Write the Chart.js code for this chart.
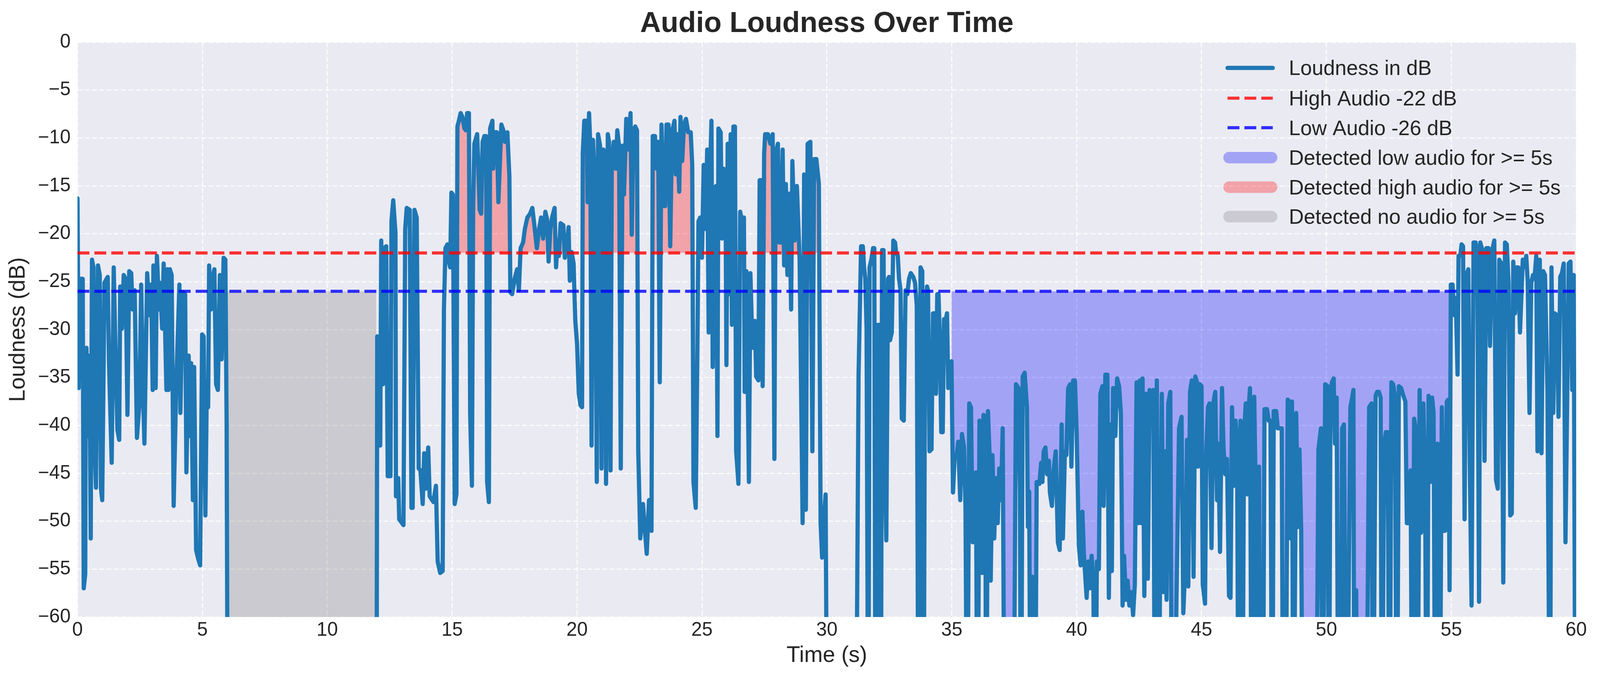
<!DOCTYPE html>
<html>
<head>
<meta charset="utf-8">
<title>Audio Loudness Over Time</title>
<script src="https://cdn.jsdelivr.net/npm/chart.js@4.4.1/dist/chart.umd.min.js"></script>
<style>
  html, body { margin: 0; padding: 0; background: #ffffff; overflow: hidden; }
  canvas { display: block; }
</style>
</head>
<body>
<canvas id="chart"></canvas>
<script>
// values (seconds / dB). -80 = below the axis floor (silence)
let timeSec = [
  // 0 - 6 s
  0.00,0.05,0.10,0.21,0.25,0.31,0.33,0.36,0.41,0.48,
  0.53,0.58,0.64,0.68,0.74,0.82,0.89,0.94,0.99,1.08,
  1.21,1.26,1.37,1.45,1.52,1.60,1.67,1.71,1.78,1.85,
  1.93,2.00,2.07,2.15,2.21,2.29,2.38,2.48,2.55,2.63,
  2.68,2.79,2.88,2.95,3.01,3.04,3.13,3.18,3.27,3.30,
  3.39,3.45,3.56,3.60,3.64,3.70,3.77,3.85,3.95,4.08,
  4.12,4.21,4.31,4.36,4.45,4.50,4.55,4.62,4.67,4.75,
  4.82,4.91,4.99,5.05,5.12,5.18,5.23,5.27,5.34,5.41,
  5.48,5.55,5.62,5.70,5.77,5.85,5.92,5.97,6.02,11.97,
  // 12 - 20 s
  12.00,12.05,12.12,12.16,12.23,12.27,12.36,12.42,12.53,12.57,
  12.64,12.73,12.75,12.84,12.88,13.05,13.12,13.18,13.30,13.37,
  13.42,13.49,13.58,13.66,13.73,13.82,13.88,13.94,14.04,14.10,
  14.25,14.35,14.42,14.52,14.62,14.67,14.73,14.81,14.85,14.92,
  14.97,15.03,15.10,15.17,15.21,15.27,15.34,15.41,15.49,15.55,
  15.60,15.67,15.72,15.79,15.84,15.89,16.00,16.04,16.10,16.16,
  16.22,16.29,16.36,16.40,16.47,16.52,16.61,16.64,16.71,16.79,
  16.85,16.92,16.97,17.05,17.11,17.21,17.29,17.33,17.40,17.50,
  17.60,17.67,17.74,17.84,17.91,18.01,18.12,18.21,18.29,18.39,
  18.48,18.56,18.64,18.73,18.80,18.86,18.93,19.00,19.10,19.16,
  19.22,19.27,19.34,19.45,19.51,19.60,19.66,19.71,19.78,19.86,
  19.93,20.00,20.07,20.14,20.20,
  // 20 - 31 s
  20.23,20.29,20.39,20.42,20.48,20.53,20.58,20.64,20.72,20.79,
  20.84,20.92,20.98,21.05,21.12,21.16,21.23,21.28,21.34,21.39,
  21.47,21.55,21.61,21.68,21.75,21.82,21.88,21.97,22.05,22.14,
  22.19,22.26,22.33,22.40,22.45,22.53,22.64,22.71,22.79,22.88,
  22.98,23.03,23.12,23.18,23.25,23.31,23.38,23.46,23.53,23.58,
  23.66,23.73,23.80,23.90,23.95,24.01,24.09,24.14,24.21,24.28,
  24.36,24.45,24.55,24.61,24.66,24.75,24.82,24.86,24.93,25.00,
  25.07,25.14,25.21,25.27,25.32,25.38,25.43,25.51,25.57,25.62,
  25.66,25.75,25.80,25.86,25.94,25.98,26.03,26.10,26.15,26.20,
  26.26,26.32,26.37,26.46,26.53,26.61,26.68,26.71,26.78,26.88,
  26.94,27.02,27.12,27.17,27.26,27.31,27.38,27.43,27.49,27.53,
  27.64,27.74,27.83,27.90,27.95,28.04,28.08,28.16,28.23,28.29,
  28.36,28.42,28.49,28.57,28.62,28.71,28.80,28.91,29.03,29.09,
  29.16,29.23,29.34,29.42,29.49,29.58,29.68,29.75,29.81,29.86,
  29.95,30.02,31.16,
  // 31 - 40 s
  31.27,31.37,31.44,31.49,31.54,31.59,31.66,31.71,31.78,31.85,
  31.90,31.95,32.04,32.11,32.16,32.21,32.27,32.32,32.38,32.45,
  32.49,32.53,32.60,32.66,32.73,32.77,32.84,32.89,32.95,33.00,
  33.08,33.15,33.22,33.29,33.36,33.46,33.53,33.60,33.67,33.75,
  33.82,33.87,33.93,34.01,34.05,34.11,34.19,34.25,34.32,34.37,
  34.42,34.47,34.52,34.58,34.64,34.69,34.75,34.81,34.86,34.93,
  34.99,35.05,35.12,35.21,35.26,35.34,35.41,35.49,35.55,35.62,
  35.70,35.77,35.84,35.90,35.97,36.03,36.11,36.16,36.22,36.27,
  36.34,36.38,36.45,36.51,36.56,36.63,36.70,36.77,36.84,36.90,
  36.97,37.04,37.12,37.47,37.57,37.67,37.73,37.77,37.84,37.92,
  38.01,38.05,38.10,38.16,38.23,38.33,38.40,38.51,38.58,38.63,
  38.68,38.75,38.82,38.89,38.93,39.01,39.08,39.16,39.25,39.32,
  39.40,39.45,39.53,39.59,39.66,39.74,39.79,39.86,39.93,
  // 40 - 50 s
  40.00,40.09,40.16,40.23,40.29,40.40,40.47,40.53,40.60,40.67,
  40.74,40.81,40.89,40.95,41.03,41.08,41.15,41.23,41.29,41.36,
  41.41,41.46,41.55,41.62,41.70,41.77,41.84,41.90,41.97,42.04,
  42.11,42.19,42.26,42.33,42.40,42.47,42.53,42.59,42.64,42.71,
  42.78,42.85,42.92,43.00,43.07,43.14,43.21,43.27,43.34,43.41,
  43.48,43.55,43.60,43.67,43.75,43.82,43.90,43.99,44.10,44.20,
  44.27,44.37,44.42,44.47,44.54,44.61,44.68,44.75,44.82,44.86,
  44.93,45.00,45.05,45.14,45.19,45.26,45.32,45.40,45.47,45.55,
  45.62,45.67,45.74,45.82,45.88,45.95,46.02,46.10,46.16,46.22,
  46.29,46.36,46.42,46.49,46.56,46.63,46.70,46.77,46.84,46.89,
  46.94,47.01,47.11,47.18,47.23,47.30,47.37,47.45,47.52,47.62,
  47.69,47.76,47.83,47.89,47.99,48.05,48.12,48.21,48.27,48.36,
  48.45,48.51,48.56,48.62,48.68,48.79,48.86,48.92,48.99,49.06,
  49.58,49.68,49.78,49.85,49.95,
  // 50 - 55 s
  50.05,50.10,50.16,50.22,50.29,50.34,50.41,50.48,50.55,50.63,
  50.70,50.75,50.82,50.89,50.96,51.03,51.08,51.12,51.19,51.26,
  51.59,51.71,51.81,51.86,51.97,52.03,52.10,52.17,52.22,52.31,
  52.38,52.45,52.53,52.60,52.67,52.74,52.82,52.90,52.99,53.08,
  53.16,53.22,53.29,53.37,53.44,53.51,53.58,53.64,53.73,53.79,
  53.88,53.95,54.02,54.09,54.16,54.23,54.29,54.36,54.45,54.53,
  54.62,54.67,54.75,54.82,54.88,54.93,
  // 55 - 60 s
  54.98,55.05,55.12,55.18,55.25,55.29,55.36,55.41,55.47,55.53,
  55.60,55.68,55.74,55.81,55.89,55.97,56.04,56.11,56.16,56.26,
  56.33,56.40,56.49,56.55,56.62,56.72,56.79,56.86,56.92,57.00,
  57.08,57.15,57.22,57.29,57.36,57.42,57.48,57.55,57.62,57.68,
  57.75,57.86,57.92,58.00,58.06,58.13,58.20,58.27,58.33,58.40,
  58.45,58.54,58.61,58.68,58.75,58.85,58.95,59.01,59.08,59.14,
  59.23,59.29,59.36,59.43,59.50,59.57,59.64,59.70,59.77,59.84,
  59.90,59.97
];

let loudnessDb = [
  // 0 - 6 s
  -16.3,-36.1,-24.7,-24.7,-57.0,-55.5,-34.7,-31.9,-41.1,-32.7,
  -51.8,-22.7,-23.5,-41.5,-46.5,-23.3,-24.3,-46.6,-47.8,-25.1,
  -24.5,-33.3,-43.9,-23.5,-31.9,-40.5,-41.5,-25.5,-29.9,-24.3,
  -24.7,-38.9,-23.9,-24.1,-27.9,-25.9,-41.3,-37.7,-25.3,-37.3,
  -41.9,-24.1,-28.5,-25.3,-36.3,-23.3,-36.1,-22.3,-27.9,-25.1,
  -29.9,-23.1,-36.3,-23.7,-36.3,-23.7,-24.3,-48.4,-36.1,-25.3,
  -38.7,-26.1,-26.3,-44.9,-32.7,-41.1,-33.5,-47.8,-33.9,-53.0,
  -53.8,-54.6,-30.5,-30.7,-49.4,-35.3,-38.1,-23.3,-27.9,-24.7,
  -23.7,-35.7,-36.3,-24.3,-33.1,-22.5,-22.7,-39.5,-80,-80,
  // 12 - 20 s
  -30.7,-42.1,-42.1,-20.7,-35.7,-21.5,-21.3,-45.3,-45.3,-18.7,
  -16.5,-19.9,-47.4,-45.5,-49.8,-50.4,-19.5,-17.3,-17.5,-48.6,
  -48.6,-17.5,-18.3,-44.5,-44.7,-48.2,-42.9,-46.6,-42.3,-47.4,
  -48.0,-46.3,-54.2,-55.4,-55.2,-27.9,-21.5,-21.1,-22.7,-23.5,
  -15.7,-15.9,-48.2,-47.2,-8.8,-8.2,-7.4,-7.8,-9.0,-9.2,
  -7.4,-7.4,-38.7,-46.3,-17.1,-10.6,-9.6,-12.4,-17.5,-17.9,
  -10.4,-9.8,-9.8,-45.9,-48.0,-9.0,-8.2,-13.2,-9.4,-9.4,
  -16.7,-12.0,-8.6,-9.2,-10.4,-9.4,-14.0,-26.1,-26.3,-24.7,
  -23.7,-25.9,-21.5,-20.9,-19.5,-18.3,-17.9,-17.3,-19.1,-21.5,
  -19.5,-18.3,-20.5,-17.7,-18.5,-22.9,-19.5,-18.3,-17.3,-23.5,
  -20.7,-22.3,-18.9,-19.1,-22.5,-21.1,-19.3,-24.9,-21.9,-23.1,
  -29.1,-31.5,-36.7,-37.9,-38.1,
  // 20 - 31 s
  -11.6,-8.2,-8.2,-16.7,-7.4,-10.8,-42.1,-10.2,-15.9,-45.9,
  -9.6,-10.8,-44.5,-11.2,-11.6,-46.1,-9.6,-10.4,-44.7,-12.8,
  -10.4,-13.2,-9.2,-10.8,-44.5,-10.8,-15.9,-8.0,-11.2,-7.4,
  -20.1,-9.2,-8.8,-9.2,-42.7,-51.8,-48.2,-50.8,-53.4,-47.8,
  -51.0,-9.8,-9.8,-13.2,-10.4,-35.5,-8.6,-17.1,-17.1,-8.6,
  -8.6,-21.3,-9.4,-8.2,-13.8,-9.6,-15.6,-7.8,-12.4,-8.6,
  -8.0,-9.4,-9.4,-12.8,-45.9,-48.6,-31.3,-18.7,-18.3,-22.5,
  -12.8,-19.5,-11.2,-30.3,-14.0,-8.2,-33.9,-15.2,-15.0,-41.1,
  -9.0,-9.4,-20.5,-13.2,-13.4,-33.7,-10.6,-26.3,-9.6,-29.5,
  -8.8,-8.8,-42.7,-46.1,-17.7,-18.7,-18.3,-36.5,-23.9,-45.9,
  -24.1,-31.9,-29.1,-34.9,-35.3,-14.4,-14.4,-35.9,-11.6,-9.6,
  -9.6,-10.6,-9.6,-43.5,-11.6,-10.6,-20.9,-20.9,-11.2,-23.3,
  -14.8,-24.3,-15.8,-27.9,-12.4,-20.7,-15.0,-22.7,-50.2,-13.8,
  -48.8,-10.6,-10.4,-42.7,-12.2,-12.2,-14.8,-50.2,-53.8,-50.6,
  -47.2,-80,-80,
  // 31 - 40 s
  -34.7,-21.3,-21.3,-23.5,-24.7,-29.9,-80,-23.5,-22.7,-21.5,
  -21.5,-80,-29.5,-29.5,-80,-21.7,-21.7,-44.7,-52.0,-24.7,
  -24.5,-31.1,-30.3,-20.7,-20.9,-21.9,-22.3,-24.7,-25.9,-39.3,
  -39.5,-25.9,-26.3,-24.7,-24.1,-24.5,-25.1,-27.5,-80,-23.5,
  -23.9,-80,-29.9,-25.5,-25.9,-42.7,-42.5,-28.3,-28.3,-36.7,
  -26.3,-26.3,-30.7,-40.7,-40.7,-28.9,-29.1,-28.3,-36.1,-33.5,
  -33.3,-47.0,-43.1,-42.9,-41.7,-47.8,-40.9,-42.3,-48.4,-80,
  -37.7,-38.1,-52.2,-45.1,-44.9,-80,-39.5,-39.7,-55.4,-38.9,
  -39.1,-80,-38.5,-42.7,-56.2,-43.1,-51.8,-45.5,-50.2,-44.5,
  -47.8,-40.3,-80,-80,-35.7,-36.1,-46.6,-80,-34.9,-34.5,
  -38.1,-50.6,-46.9,-80,-55.8,-80,-45.9,-46.1,-43.9,-45.9,
  -42.7,-42.3,-45.1,-43.7,-47.0,-48.4,-44.7,-42.7,-52.2,-53.0,
  -39.9,-51.8,-42.7,-43.1,-36.1,-35.7,-44.3,-35.3,-35.3,
  // 40 - 50 s
  -40.7,-52.6,-54.6,-49.0,-53.4,-58.0,-54.2,-57.0,-53.6,-56.6,
  -80,-54.2,-55.0,-36.7,-35.9,-48.4,-34.7,-34.7,-58.0,-39.9,
  -55.2,-36.1,-41.1,-35.1,-35.9,-38.7,-58.8,-53.6,-58.2,-56.2,
  -58.8,-57.4,-59.8,-56.6,-35.5,-50.2,-35.3,-50.2,-35.1,-57.8,
  -36.7,-56.0,-36.3,-38.5,-36.3,-80,-35.3,-80,-55.8,-36.7,
  -57.4,-42.7,-58.2,-37.7,-36.5,-80,-80,-59.4,-40.3,-39.1,
  -59.6,-53.4,-41.5,-56.8,-36.5,-35.3,-55.8,-34.9,-35.5,-44.3,
  -35.7,-35.9,-56.6,-58.6,-42.7,-38.1,-37.7,-52.8,-37.7,-36.5,
  -47.8,-41.9,-53.2,-36.1,-42.3,-45.1,-43.5,-57.8,-58.0,-38.1,
  -46.3,-39.5,-41.5,-80,-39.5,-80,-40.9,-37.7,-47.2,-38.1,
  -36.1,-80,-37.0,-49.2,-80,-44.3,-80,-80,-38.3,-38.3,
  -39.5,-39.5,-80,-38.5,-38.5,-40.3,-40.3,-40.3,-80,-80,
  -37.3,-37.5,-51.8,-37.5,-80,-38.7,-50.6,-42.5,-51.0,-80,
  -80,-42.5,-40.3,-80,-35.7,
  // 50 - 55 s
  -35.9,-80,-37.1,-35.5,-35.1,-41.9,-37.1,-80,-80,-40.3,
  -39.9,-58.6,-80,-57.8,-38.1,-37.1,-36.3,-80,-57.2,-80,
  -80,-38.1,-37.7,-80,-36.9,-36.5,-36.5,-37.1,-80,-41.9,
  -40.7,-40.7,-80,-35.5,-35.7,-36.9,-80,-35.9,-36.1,-36.9,
  -37.5,-50.2,-50.2,-44.7,-80,-39.3,-40.5,-80,-36.3,-51.2,
  -37.7,-46.1,-80,-36.9,-45.9,-37.1,-38.7,-80,-41.9,-80,
  -38.1,-51.0,-51.0,-37.5,-37.3,-57.2,
  // 55 - 60 s
  -25.3,-25.3,-28.5,-26.7,-34.7,-22.3,-22.3,-21.1,-21.3,-49.8,
  -24.3,-23.7,-44.1,-58.8,-20.9,-20.9,-21.9,-58.4,-20.9,-21.9,
  -43.7,-21.5,-21.5,-31.7,-21.9,-20.7,-45.7,-46.6,-22.7,-23.1,
  -56.4,-20.9,-21.1,-25.1,-49.4,-49.2,-22.9,-28.3,-23.5,-23.5,
  -30.3,-22.7,-23.5,-22.3,-25.1,-38.7,-25.1,-24.3,-24.7,-22.3,
  -42.7,-22.7,-42.9,-23.9,-24.3,-36.5,-80,-23.5,-38.7,-28.3,
  -28.5,-39.1,-24.5,-24.1,-23.1,-52.2,-36.9,-23.1,-22.9,-36.3,
  -24.3,-80
];

let highThreshold = -22;
let lowThreshold = -26;

// detected segments [start s, end s]
let highAudioRanges = [[15.2, 24.62], [27.3, 29.7]];
let lowAudioRanges = [[34.99, 54.93]];
let noAudioRanges = [[6.0, 11.96]];

let xTicks = [0, 5, 10, 15, 20, 25, 30, 35, 40, 45, 50, 55, 60];
let yTicks = [0, -5, -10, -15, -20, -25, -30, -35, -40, -45, -50, -55, -60];

let chartTitle = 'Audio Loudness Over Time';
let xLabel = 'Time (s)';
let yLabel = 'Loudness (dB)';
let legendLabels = [
  'Loudness in dB',
  'High Audio -22 dB',
  'Low Audio -26 dB',
  'Detected low audio for >= 5s',
  'Detected high audio for >= 5s',
  'Detected no audio for >= 5s'
];

console.log('points', timeSec.length, loudnessDb.length);

// the layout was measured on a 4171 x 1772 picture; scale it to whatever the window really is
let canvas = document.getElementById('chart');
let W = window.innerWidth || 4171;
let H = window.innerHeight || 1772;
let s = Math.min(W / 4171, H / 1772);
canvas.width = W;
canvas.height = H;
canvas.style.width = W + 'px';
canvas.style.height = H + 'px';
const px = (v) => v * s;

const FONT = '"Liberation Sans", Arial, Helvetica, sans-serif';
const INK = '#262626';
const FILL_LOW = 'rgba(0,0,255,0.3)';
const FILL_HIGH = 'rgba(255,0,0,0.3)';
const FILL_NONE = 'rgba(128,128,128,0.3)';
const NOTHING = 'rgba(0,0,0,0)';
const DASH = [px(31), px(13)];

let points = timeSec.map((t, i) => ({ x: t, y: loudnessDb[i] }));
let within = (r) => points.filter(p => p.x >= r[0] && p.x <= r[1]);

let datasets = [];

datasets.push({
  label: legendLabels[0],
  data: points,
  borderColor: '#1f77b4',
  borderWidth: px(11),
  borderJoinStyle: 'round',
  borderCapStyle: 'round',
  pointRadius: 0,
  tension: 0,
  fill: false,
  clip: 0,
  order: 1
});

datasets.push({
  label: legendLabels[1],
  data: [{ x: 0, y: highThreshold }, { x: 60, y: highThreshold }],
  borderColor: 'rgba(255,0,0,0.8)',
  borderWidth: px(8),
  borderDash: DASH,
  pointRadius: 0,
  fill: false,
  order: 0
});

datasets.push({
  label: legendLabels[2],
  data: [{ x: 0, y: lowThreshold }, { x: 60, y: lowThreshold }],
  borderColor: 'rgba(0,0,255,0.8)',
  borderWidth: px(8),
  borderDash: DASH,
  pointRadius: 0,
  fill: false,
  order: 0
});

lowAudioRanges.forEach(r => {
  datasets.push({
    label: legendLabels[3],
    data: within(r),
    borderColor: NOTHING,
    borderWidth: 0,
    pointRadius: 0,
    fill: { target: { value: lowThreshold }, below: FILL_LOW, above: NOTHING },
    order: 5
  });
});

highAudioRanges.forEach(r => {
  datasets.push({
    label: legendLabels[4],
    data: within(r),
    borderColor: NOTHING,
    borderWidth: 0,
    pointRadius: 0,
    fill: { target: { value: highThreshold }, above: FILL_HIGH, below: NOTHING },
    order: 5
  });
});

noAudioRanges.forEach(r => {
  datasets.push({
    label: legendLabels[5],
    data: [{ x: r[0], y: lowThreshold }, { x: r[1], y: lowThreshold }],
    borderColor: NOTHING,
    borderWidth: 0,
    pointRadius: 0,
    backgroundColor: FILL_NONE,
    fill: 'start',
    order: 5
  });
});

// background, title and in-plot legend
const decor = {
  id: 'decor',
  beforeDraw(chart) {
    const { ctx, chartArea: a } = chart;
    ctx.save();
    ctx.fillStyle = '#eaeaf2';
    ctx.fillRect(a.left, a.top, a.right - a.left, a.bottom - a.top);
    ctx.restore();
  },
  afterDraw(chart) {
    const { ctx, chartArea: a } = chart;
    ctx.save();
    ctx.fillStyle = INK;
    ctx.font = 'bold ' + px(75) + 'px ' + FONT;
    ctx.textAlign = 'center';
    ctx.textBaseline = 'alphabetic';
    ctx.fillText(chartTitle, (a.left + a.right) / 2, px(84));

    const rows = [177, 256, 333, 411, 488, 565];
    const keys = [
      { color: '#1f77b4', width: 11, dash: [], cap: 'round', x0: 3200, x1: 3318 },
      { color: 'rgba(255,0,0,0.8)', width: 8, dash: DASH, cap: 'butt', x0: 3200, x1: 3318 },
      { color: 'rgba(0,0,255,0.8)', width: 8, dash: DASH, cap: 'butt', x0: 3200, x1: 3318 },
      { color: FILL_LOW, width: 30, dash: [], cap: 'round', x0: 3204, x1: 3315 },
      { color: FILL_HIGH, width: 30, dash: [], cap: 'round', x0: 3204, x1: 3315 },
      { color: FILL_NONE, width: 30, dash: [], cap: 'round', x0: 3204, x1: 3315 }
    ];
    keys.forEach((k, i) => {
      const y = px(rows[i]);
      ctx.beginPath();
      ctx.strokeStyle = k.color;
      ctx.lineWidth = px(k.width);
      ctx.lineCap = k.cap;
      ctx.setLineDash(k.dash);
      ctx.moveTo(px(k.x0), y);
      ctx.lineTo(px(k.x1), y);
      ctx.stroke();
      ctx.setLineDash([]);
      ctx.fillStyle = INK;
      ctx.font = px(54) + 'px ' + FONT;
      ctx.textAlign = 'left';
      ctx.textBaseline = 'alphabetic';
      ctx.fillText(legendLabels[i], px(3360), y + px(19));
    });
    ctx.restore();
  }
};

const minus = (v) => (v < 0 ? '\u2212' + Math.abs(v) : String(v));

new Chart(canvas, {
  type: 'line',
  data: { datasets: datasets },
  options: {
    responsive: false,
    devicePixelRatio: 1,
    animation: false,
    events: [],
    layout: { padding: { top: px(110), right: W - px(4109), left: 0, bottom: 0 } },
    plugins: {
      legend: { display: false },
      tooltip: { enabled: false },
      title: { display: false }
    },
    scales: {
      x: {
        type: 'linear',
        min: 0,
        max: 60,
        afterBuildTicks: (sc) => { sc.ticks = xTicks.map(v => ({ value: v })); },
        afterFit: (sc) => { sc.height = H - px(1609); },
        grid: { color: 'rgba(255,255,255,0.85)', lineWidth: px(3), drawTicks: false },
        border: { display: false, dash: [px(13), px(6)] },
        ticks: {
          padding: px(5),
          color: INK,
          font: { family: FONT, size: px(50) },
          maxRotation: 0,
          callback: (v) => minus(v)
        },
        title: {
          display: true,
          text: xLabel,
          color: INK,
          font: { family: FONT, size: px(58) },
          padding: { top: 0, bottom: H - px(1772) + px(27) }
        }
      },
      y: {
        type: 'linear',
        min: -60,
        max: 0,
        afterBuildTicks: (sc) => { sc.ticks = yTicks.map(v => ({ value: v })); },
        afterFit: (sc) => { sc.width = px(202); },
        grid: { color: 'rgba(255,255,255,0.85)', lineWidth: px(3), drawTicks: false },
        border: { display: false, dash: [px(13), px(6)] },
        ticks: {
          padding: px(18),
          color: INK,
          font: { family: FONT, size: px(50) },
          callback: (v) => minus(v)
        },
        title: {
          display: true,
          text: yLabel,
          color: INK,
          font: { family: FONT, size: px(58) },
          padding: { top: px(13), bottom: 0 }
        }
      }
    }
  },
  plugins: [decor]
});
</script>
</body>
</html>
